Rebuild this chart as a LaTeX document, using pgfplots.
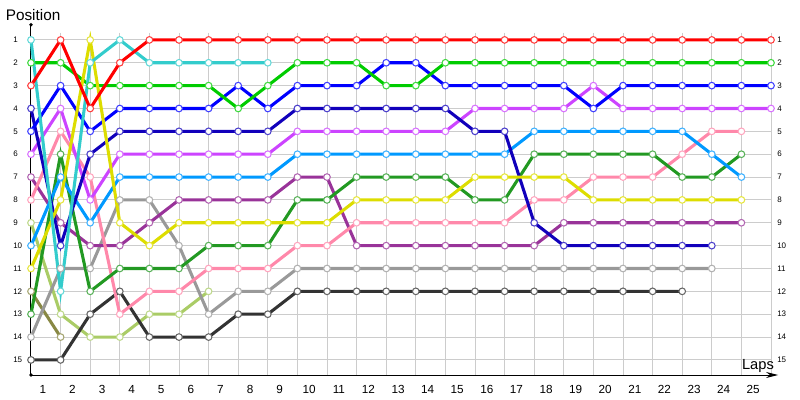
\documentclass[border=0pt]{standalone}
\usepackage{fontspec}
\setmainfont{Liberation Sans}
\usepackage{pgfplots}
\pgfplotsset{compat=1.18}
\usetikzlibrary{arrows.meta}
\definecolor{cRed}{HTML}{FF0000}
\definecolor{cCyan}{HTML}{33CCCC}
\definecolor{cGreen}{HTML}{00CC00}
\definecolor{cBlue}{HTML}{0000FF}
\definecolor{cNavy}{HTML}{1100BB}
\definecolor{cViolet}{HTML}{CC44FF}
\definecolor{cLBlue}{HTML}{0099FF}
\definecolor{cForest}{HTML}{229922}
\definecolor{cPink}{HTML}{FF88AA}
\definecolor{cYellow}{HTML}{DDDD00}
\definecolor{cPurple}{HTML}{993399}
\definecolor{cGrey}{HTML}{999999}
\definecolor{cBlack}{HTML}{333333}
\definecolor{cYGreen}{HTML}{AACC66}
\definecolor{cOlive}{HTML}{888844}
\definecolor{cGrid}{HTML}{CCCCCC}
\pgfplotsset{
  lap/.style={color=#1, line width=2.3pt, mark=*, mark size=2.5pt,
    mark options={fill=white, draw=#1!75!white, line width=0.8pt, solid}},
}
\begin{document}
\begin{tikzpicture}
\begin{axis}[
  x=22.2pt, y=17.143pt, y dir=reverse,
  xmin=0, xmax=25, ymin=0.68, ymax=15.66,
  axis line style={draw=none},
  xtick={0.4,1.4,...,24.4},
  xticklabels={1,2,3,4,5,6,7,8,9,10,11,12,13,14,15,16,17,18,19,20,21,22,23,24,25},
  minor xtick={0,1,...,25},
  xminorgrids=true, xmajorgrids=false, ymajorgrids=true,
  ytick={1,2,...,15},
  major tick length=0pt, minor tick length=0pt,
  grid style={draw=cGrid, line width=0.75pt},
  minor grid style={draw=cGrid, line width=0.75pt},
  xticklabel style={font=\fontsize{8.8}{10}\selectfont, anchor=base, inner sep=0pt, yshift=-13.6pt},
  yticklabel style={font=\fontsize{6}{7}\selectfont, anchor=west, inner sep=0pt, xshift=-13.5pt},
  /pgf/number format/assume math mode=true,
  clip=false,
]
\coordinate (O) at (axis cs:0,15.66);
% axes
\draw[black, line width=0.75pt] (axis cs:0,15.66) -- (axis cs:0,0.34);
\fill[black] (axis cs:0,0.34) circle (1.4pt);
\fill[black] (axis cs:0,15.66) circle (1.4pt);
\draw[black, line width=0.75pt, -{Stealth[length=9pt,width=4.5pt]}] (axis cs:0,15.66) -- (axis cs:25.24,15.66);
\node[anchor=base, inner sep=0pt, font=\fontsize{11.5}{12}\selectfont] at (axis cs:0.07,0.156) {Position};
\node[anchor=base, inner sep=0pt, font=\fontsize{11}{12}\selectfont] at (axis cs:24.56,15.43) {Laps};
\pgfplotsinvokeforeach{1,...,15}{
  \node[anchor=west, inner sep=0pt, xshift=4.5pt, font=\fontsize{6}{7}\selectfont] at (axis cs:25,#1) {#1};
}
% series
\addplot[lap=cOlive] coordinates {(0,12)(1,14)};
\addplot[lap=cYGreen] coordinates {(0,9)(1,13)(2,14)(3,14)(4,13)(5,13)(6,12)};
\addplot[lap=cBlack] coordinates {(0,15)(1,15)(2,13)(3,12)(4,14)(5,14)(6,14)(7,13)(8,13)(9,12)(10,12)(11,12)(12,12)(13,12)(14,12)(15,12)(16,12)(17,12)(18,12)(19,12)(20,12)(21,12)(22,12)};
\addplot[lap=cGrey] coordinates {(0,14)(1,11)(2,11)(3,8)(4,8)(5,10)(6,13)(7,12)(8,12)(9,11)(10,11)(11,11)(12,11)(13,11)(14,11)(15,11)(16,11)(17,11)(18,11)(19,11)(20,11)(21,11)(22,11)(23,11)};
\addplot[lap=cPurple] coordinates {(0,7)(1,9)(2,10)(3,10)(4,9)(5,8)(6,8)(7,8)(8,8)(9,7)(10,7)(11,10)(12,10)(13,10)(14,10)(15,10)(16,10)(17,10)(18,9)(19,9)(20,9)(21,9)(22,9)(23,9)(24,9)};
\addplot[lap=cPink] coordinates {(0,8)(1,5)(2,7)(3,13)(4,12)(5,12)(6,11)(7,11)(8,11)(9,10)(10,10)(11,9)(12,9)(13,9)(14,9)(15,9)(16,9)(17,8)(18,8)(19,7)(20,7)(21,7)(22,6)(23,5)(24,5)};
\addplot[lap=cForest] coordinates {(0,13)(1,6)(2,12)(3,11)(4,11)(5,11)(6,10)(7,10)(8,10)(9,8)(10,8)(11,7)(12,7)(13,7)(14,7)(15,8)(16,8)(17,6)(18,6)(19,6)(20,6)(21,6)(22,7)(23,7)(24,6)};
\addplot[lap=cLBlue] coordinates {(0,10)(1,7)(2,9)(3,7)(4,7)(5,7)(6,7)(7,7)(8,7)(9,6)(10,6)(11,6)(12,6)(13,6)(14,6)(15,6)(16,6)(17,5)(18,5)(19,5)(20,5)(21,5)(22,5)(23,6)(24,7)};
\addplot[lap=cViolet] coordinates {(0,6)(1,4)(2,8)(3,6)(4,6)(5,6)(6,6)(7,6)(8,6)(9,5)(10,5)(11,5)(12,5)(13,5)(14,5)(15,4)(16,4)(17,4)(18,4)(19,3)(20,4)(21,4)(22,4)(23,4)(24,4)(25,4)};
\addplot[lap=cNavy] coordinates {(0,4)(1,10)(2,6)(3,5)(4,5)(5,5)(6,5)(7,5)(8,5)(9,4)(10,4)(11,4)(12,4)(13,4)(14,4)(15,5)(16,5)(17,9)(18,10)(19,10)(20,10)(21,10)(22,10)(23,10)};
\addplot[lap=cBlue] coordinates {(0,5)(1,3)(2,5)(3,4)(4,4)(5,4)(6,4)(7,3)(8,4)(9,3)(10,3)(11,3)(12,2)(13,2)(14,3)(15,3)(16,3)(17,3)(18,3)(19,4)(20,3)(21,3)(22,3)(23,3)(24,3)(25,3)};
\addplot[lap=cGreen] coordinates {(0,2)(1,2)(2,3)(3,3)(4,3)(5,3)(6,3)(7,4)(8,3)(9,2)(10,2)(11,2)(12,3)(13,3)(14,2)(15,2)(16,2)(17,2)(18,2)(19,2)(20,2)(21,2)(22,2)(23,2)(24,2)(25,2)};
\addplot[lap=cYellow] coordinates {(0,11)(1,8)(2,1)(3,9)(4,10)(5,9)(6,9)(7,9)(8,9)(9,9)(10,9)(11,8)(12,8)(13,8)(14,8)(15,7)(16,7)(17,7)(18,7)(19,8)(20,8)(21,8)(22,8)(23,8)(24,8)};
\addplot[lap=cCyan] coordinates {(0,1)(1,12)(2,2)(3,1)(4,2)(5,2)(6,2)(7,2)(8,2)};
\addplot[lap=cRed] coordinates {(0,3)(1,1)(2,4)(3,2)(4,1)(5,1)(6,1)(7,1)(8,1)(9,1)(10,1)(11,1)(12,1)(13,1)(14,1)(15,1)(16,1)(17,1)(18,1)(19,1)(20,1)(21,1)(22,1)(23,1)(24,1)(25,1)};
\end{axis}
\pgfresetboundingbox
\path[use as bounding box] ([shift={(-23.25pt,-18.75pt)}]O) rectangle ([shift={(576.75pt,281.25pt)}]O);
\end{tikzpicture}
\end{document}
